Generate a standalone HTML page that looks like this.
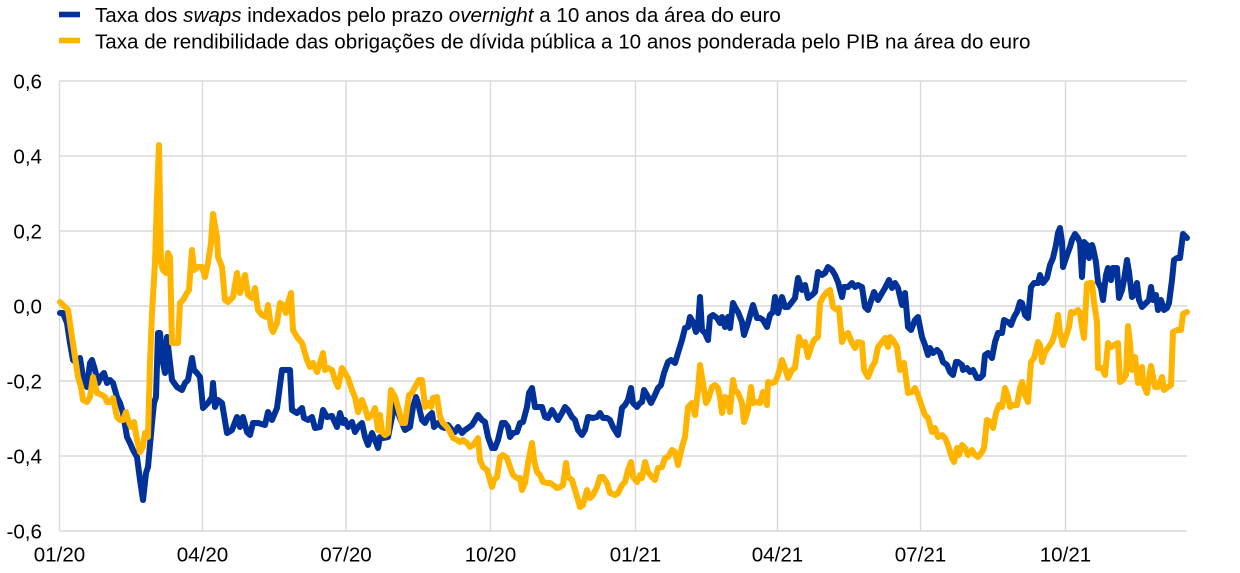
<!DOCTYPE html>
<html><head><meta charset="utf-8">
<style>
html,body{margin:0;padding:0;background:#fff;}
svg{display:block;}
text{font-family:"Liberation Sans",Arial,sans-serif;fill:#000;}
</style></head>
<body>
<svg width="1240" height="573" viewBox="0 0 1240 573" xmlns="http://www.w3.org/2000/svg">
<rect width="1240" height="573" fill="#fff"/>
<!-- legend -->
<rect x="59" y="11.7" width="21" height="5.6" fill="#003299"/>
<rect x="59" y="37.7" width="21" height="5.6" fill="#FFB400"/>
<text x="95" y="22" font-size="20.6">Taxa dos <tspan font-style="italic">swaps</tspan> indexados pelo prazo <tspan font-style="italic">overnight</tspan> a 10 anos da área do euro</text>
<text x="95" y="48.5" font-size="20.6">Taxa de rendibilidade das obrigações de dívida pública a 10 anos ponderada pelo PIB na área do euro</text>
<!-- grid -->
<g stroke="#d9d9d9" stroke-width="1.4" fill="none">
<line x1="59.5" y1="81" x2="1187" y2="81"/>
<line x1="59.5" y1="156" x2="1187" y2="156"/>
<line x1="59.5" y1="231" x2="1187" y2="231"/>
<line x1="59.5" y1="306" x2="1187" y2="306"/>
<line x1="59.5" y1="381" x2="1187" y2="381"/>
<line x1="59.5" y1="456" x2="1187" y2="456"/>
<line x1="59.5" y1="531" x2="1187" y2="531"/>
<line x1="59.5" y1="81" x2="59.5" y2="531"/>
<line x1="202.5" y1="81" x2="202.5" y2="531"/>
<line x1="346" y1="81" x2="346" y2="531"/>
<line x1="490.5" y1="81" x2="490.5" y2="531"/>
<line x1="635.5" y1="81" x2="635.5" y2="531"/>
<line x1="777.5" y1="81" x2="777.5" y2="531"/>
<line x1="920.5" y1="81" x2="920.5" y2="531"/>
<line x1="1065.5" y1="81" x2="1065.5" y2="531"/>
</g>
<!-- y labels -->
<g font-size="20.6" text-anchor="end">
<text x="42" y="88.4">0,6</text>
<text x="42" y="163.4">0,4</text>
<text x="42" y="238.4">0,2</text>
<text x="42" y="313.4">0,0</text>
<text x="42" y="388.4">-0,2</text>
<text x="42" y="463.4">-0,4</text>
<text x="42" y="538.4">-0,6</text>
</g>
<!-- x labels -->
<g font-size="20.6" text-anchor="middle">
<text x="59.5" y="561.5">01/20</text>
<text x="202.5" y="561.5">04/20</text>
<text x="346" y="561.5">07/20</text>
<text x="490.5" y="561.5">10/20</text>
<text x="635.5" y="561.5">01/21</text>
<text x="777.5" y="561.5">04/21</text>
<text x="920.5" y="561.5">07/21</text>
<text x="1065.5" y="561.5">10/21</text>
</g>
<!-- blue series -->
<polyline fill="none" stroke="#003299" stroke-width="6" stroke-linejoin="round" stroke-linecap="round" points="
60,313 63,313 67,323 70,343 73,360 77,363 80,358 83,377 87,387 90,363 92,360 95,370 98,383 102,375 104,373 107,383 110,380 113,383 117,397 120,403 123,413 127,437 130,443 133,450 137,457 140,480 143,500 146,473 148,467 152,423 154,403 156,397 158,333 160,333 163,363 165,373 167,337 170,363 172,380 177,387 182,390 185,383 188,380 192,358 194,370 197,373 200,377 203,408 208,403 212,397 213,383 215,407 218,400 222,403 227,433 232,430 237,417 240,427 243,417 247,432 250,435 253,423 258,423 265,425 268,412 272,420 277,408 282,370 287,370 290,370 292,410 297,413 302,408 304,418 308,420 312,417 315,428 320,427 323,410 327,417 332,416 337,427 340,413 343,423
345,420 348,427 352,422 355,432 358,427 362,423 365,437 368,445 372,433 375,440 378,448 380,437 383,438 388,437 392,417 395,400 398,413 402,423 405,430 410,427 413,407 416,397 418,403 422,420 425,423 428,417 432,413 434,427 438,423 442,427 445,428 448,425 452,430 455,432 458,427 462,433 465,430 468,428 472,425 475,420 478,415 482,420 485,422 488,437 492,448 495,448 498,440 502,423 505,423 508,427 510,437 513,433 517,432 520,423 523,422 527,407 529,393 532,388 535,407 538,407 542,407 545,417 548,418 552,410 555,415 558,420 562,413 565,407 568,410 572,417 575,420 578,430 582,435 585,430 588,417 593,418 597,417 600,413 603,418 607,418 610,420 613,427 618,435 622,408 625,405 628,400 631,388 633,403 637,407 640,403
642,402 644,390 648,397 651,403 654,397 658,388 661,385 664,373 668,362 671,360 675,363 678,353 682,340 685,328 688,327 690,317 693,322 696,332 698,327 700,297 702,330 705,333 708,340 710,317 713,315 717,318 720,323 722,317 725,327 728,317 730,328 733,303 735,307 738,312 742,322 744,335 748,323 751,312 753,305 757,318 760,318 763,320 767,327 770,315 773,312 775,297 778,313 782,297 785,307 788,307 792,302 795,298 798,278 802,290 805,285 808,298 812,295 815,292 818,272 822,275 825,273 828,267 832,270 835,275 838,282 842,297 844,287 848,287 852,283 855,287 858,285 862,287 865,307 868,310 872,298 874,292 878,300 882,293 885,288 889,280 892,288 895,283 898,288 902,305 905,293 908,327 911,330 915,320 918,317 922,337 925,345
928,355 930,348 933,353 937,350 940,353 943,362 947,365 950,372 953,375 956,362 958,362 962,365 963,370 967,368 970,372 973,370 977,378 980,378 983,375 985,355 988,353 992,358 995,342 998,333 1002,333 1004,320 1008,322 1011,325 1014,317 1017,312 1020,302 1022,303 1025,315 1028,318 1031,287 1034,283 1038,283 1040,275 1043,283 1047,278 1050,265 1053,258 1056,245 1058,233 1060,228 1062,242 1063,267 1067,255 1070,247 1072,240 1075,234 1078,238 1080,243 1082,277 1084,242 1087,245 1089,258 1092,245 1093,248 1096,262 1098,282 1101,288 1103,300 1106,275 1108,268 1111,280 1113,268 1117,268 1119,298 1122,290 1124,280 1127,260 1129,272 1132,297 1134,295 1137,283 1139,300 1142,307 1146,303 1149,300 1151,287 1153,300 1156,295 1158,310 1161,300 1164,310 1167,308 1169,303 1172,280 1174,260 1177,258 1180,258 1183,234 1187,238"/>
<!-- orange series -->
<polyline fill="none" stroke="#FFB400" stroke-width="6" stroke-linejoin="round" stroke-linecap="round" points="
60,302 63,305 68,310 72,337 75,357 78,377 81,387 83,400 87,402 90,397 93,377 97,393 102,395 105,397 107,402 110,402 113,398 117,417 120,420 123,420 126,412 128,420 131,427 134,422 137,440 140,452 143,447 145,433 148,437 150,363 152,313 155,263 157,197 159,145 161,263 163,270 166,273 168,253 170,257 172,343 175,343 178,343 180,303 183,300 187,293 189,290 192,250 194,270 198,267 202,267 205,277 208,263 211,243 213,214 217,237 218,257 222,267 225,300 228,302 233,297 237,273 240,293 245,275 248,295 252,298 255,288 258,310 262,315 266,317 268,305 271,327 273,332 277,323 280,303 283,305 286,313 288,303 291,293 293,330 297,337 302,343 307,360 310,367 313,363 317,372 320,363 323,353 325,370 328,368 332,370 335,380 338,387 342,368 345,373
348,378 352,390 355,397 358,412 362,400 365,408 368,418 372,415 375,408 378,430 380,415 382,432 385,435 388,433 391,390 395,397 398,407 402,423 405,423 409,395 412,393 415,387 419,380 422,380 425,407 428,403 431,407 433,398 437,397 440,417 443,423 447,427 450,432 453,438 457,440 460,442 463,440 467,443 470,447 473,445 477,440 478,438 480,460 483,467 487,470 492,487 494,480 497,477 500,457 503,455 507,458 510,467 513,475 517,478 520,478 522,490 525,483 528,463 532,443 534,460 537,472 540,475 543,482 547,483 550,483 553,485 557,488 560,487 563,485 566,463 568,477 572,480 575,490 578,500 580,507 583,505 587,490 590,498 593,495 597,487 600,477 603,477 607,483 610,493 615,495 618,493 622,485 625,482 628,470 631,462 633,477 637,482 640,475
642,478 645,462 648,472 652,477 655,480 658,468 662,467 665,458 668,457 672,450 675,452 678,465 682,447 685,437 688,407 692,403 695,415 698,390 700,365 703,383 706,403 708,400 712,387 715,385 718,388 720,397 722,413 725,397 728,400 730,412 733,380 735,390 738,393 742,403 744,422 748,410 751,387 753,403 757,402 760,403 763,392 767,405 768,382 772,383 775,382 778,375 782,360 785,368 788,378 792,370 795,368 799,337 802,345 805,342 808,357 811,347 814,340 818,337 820,303 823,297 827,292 830,290 833,307 837,310 839,308 842,342 845,335 848,333 852,343 855,348 858,342 862,343 864,370 868,377 872,367 875,362 878,347 882,342 885,338 888,347 890,337 893,340 897,347 900,370 904,363 908,393 912,392 915,388 918,395 922,407 925,415
928,418 932,432 935,428 938,437 942,435 945,438 948,445 952,458 954,462 957,448 959,455 962,445 965,448 968,455 972,450 975,455 978,457 982,452 984,448 987,420 990,422 993,428 996,413 999,405 1002,407 1005,388 1008,397 1010,407 1013,405 1017,405 1020,388 1022,382 1025,395 1028,402 1031,362 1034,358 1038,342 1040,345 1042,362 1045,352 1048,348 1052,342 1055,333 1058,315 1060,332 1063,345 1067,333 1069,327 1071,312 1074,313 1078,310 1080,313 1082,327 1084,338 1087,284 1090,283 1092,283 1094,302 1097,322 1098,368 1102,368 1105,375 1108,343 1111,347 1114,345 1118,343 1120,382 1123,380 1126,375 1128,326 1130,343 1132,370 1135,357 1138,383 1142,367 1143,383 1147,393 1149,378 1151,366 1155,387 1158,387 1162,377 1164,390 1168,387 1171,385 1173,332 1177,330 1181,330 1183,314 1187,312"/>
</svg>
</body></html>
